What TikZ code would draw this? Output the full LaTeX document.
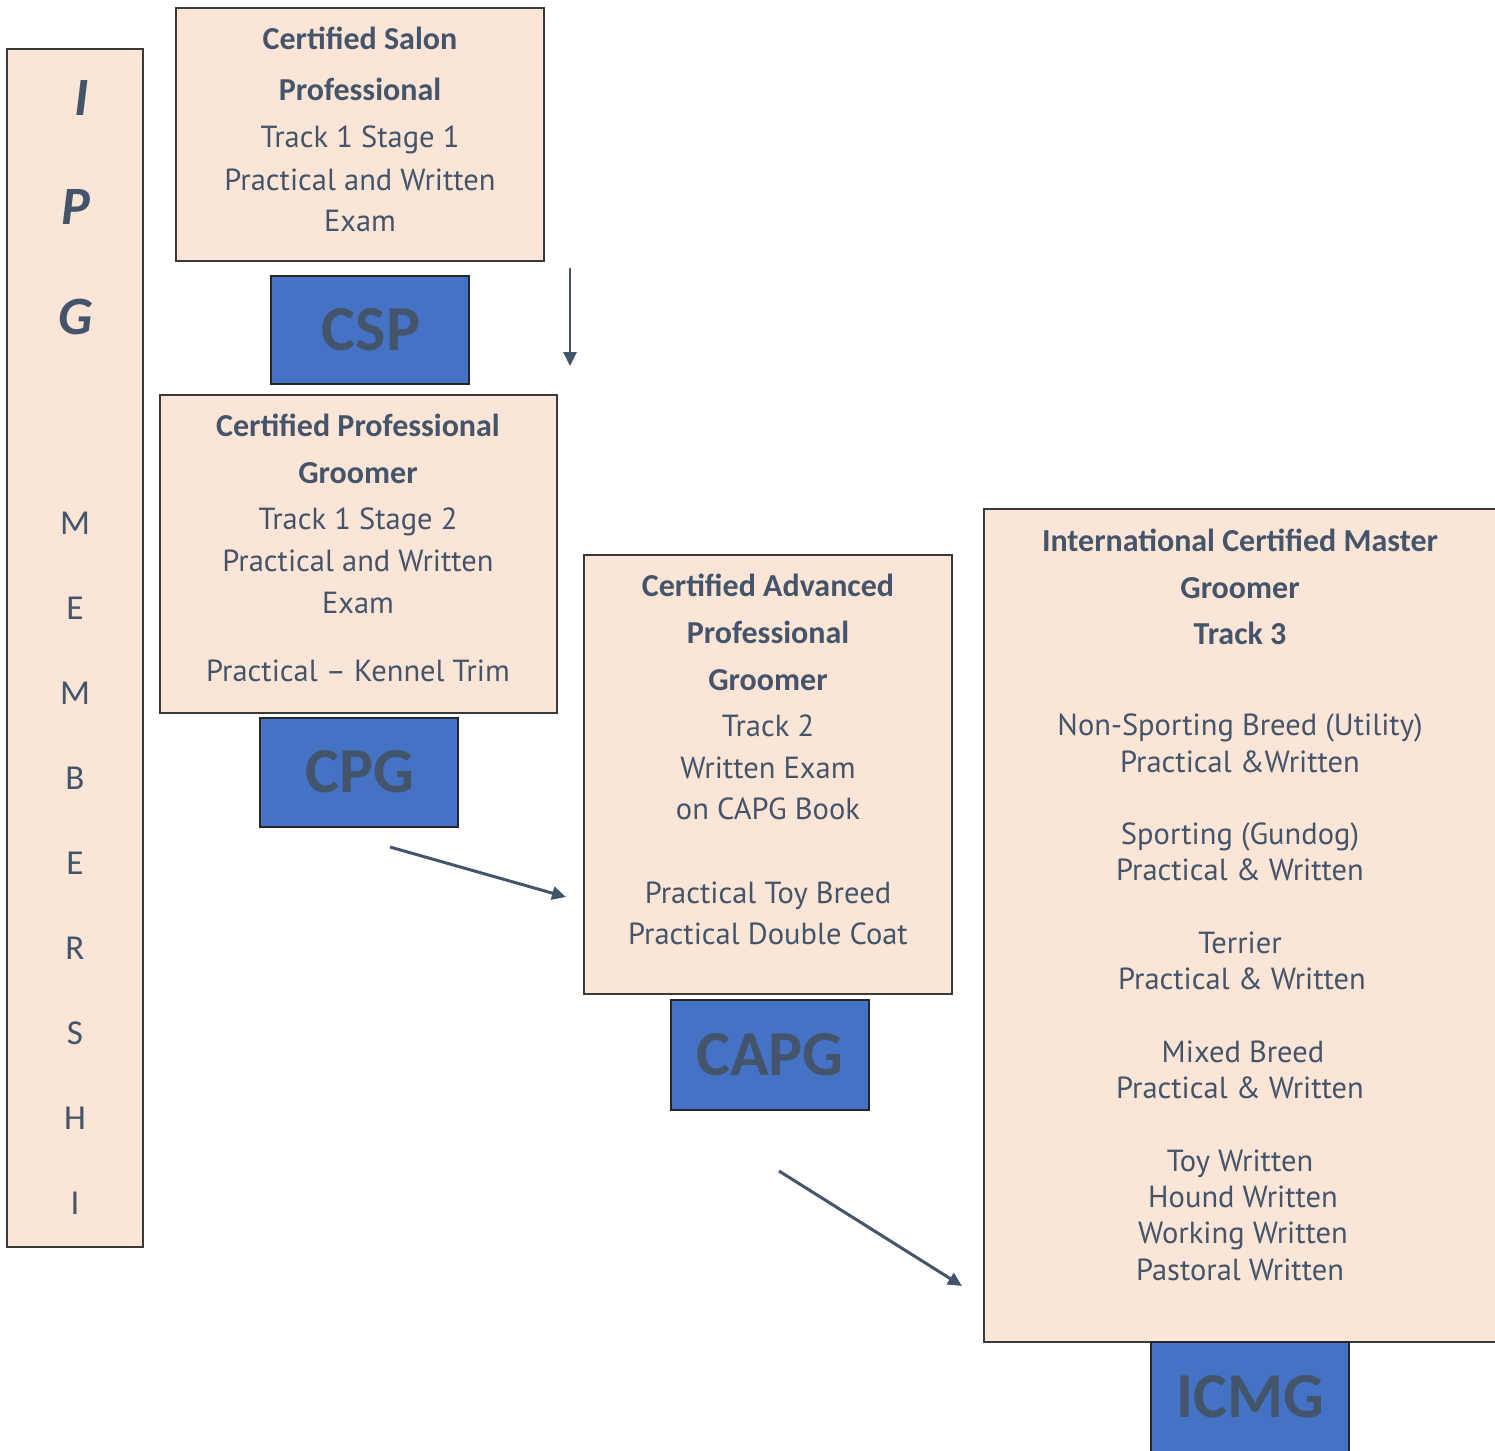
\documentclass[tikz,border=0pt]{standalone}
\usepackage{fontspec}
\setmainfont{PT Sans}
\newfontfamily\hdfont{Carlito}
\usetikzlibrary{arrows.meta}
\definecolor{peach}{HTML}{FBE5D6}
\definecolor{slate}{HTML}{44546A}
\definecolor{boxblue}{HTML}{4472C4}
\definecolor{edge}{HTML}{3A3A3A}
\tikzset{
  peachbox/.style={draw=edge, line width=1.4pt, fill=peach, inner sep=0pt, outer sep=0pt},
  bluebox/.style={draw=black!85, line width=1.4pt, fill=boxblue, inner sep=0pt, outer sep=0pt},
  bodytxt/.style={text=slate, font=\fontsize{30.5}{36}\selectfont, anchor=base, inner sep=0pt},
  headtxt/.style={text=slate, font=\hdfont\bfseries\fontsize{32}{36}\selectfont, anchor=base, inner sep=0pt},
  abbrtxt/.style={text=slate, font=\hdfont\bfseries\fontsize{64}{64}\selectfont, inner sep=0pt},
  bigletter/.style={text=slate, font=\hdfont\bfseries\itshape\fontsize{54}{54}\selectfont, inner sep=0pt},
  memletter/.style={text=slate, font=\hdfont\fontsize{35}{35}\selectfont, inner sep=0pt},
  flowarrow/.style={draw=slate, line width=3pt, -{Triangle[length=14pt,width=13pt]}},
}
\begin{document}
\begin{tikzpicture}[x=1pt,y=-1pt]
\useasboundingbox (0,0) rectangle (1495,1450);
\fill[white] (0,0) rectangle (1495,1450);
\clip (0,0) rectangle (1495,1450);

% IPG membership bar
\node[peachbox, minimum width=136pt, minimum height=1198pt] (bar) at (75,648) {};
\node[bigletter] (lI) at (82,98) {I};
\node[bigletter] (lP) at (76,207) {P};
\node[bigletter] (lG) at (76,317) {G};
\node[memletter] (m1) at (75,523) {M};
\node[memletter] (m2) at (75,608) {E};
\node[memletter] (m3) at (75,693) {M};
\node[memletter] (m4) at (75,778) {B};
\node[memletter] (m5) at (75,863) {E};
\node[memletter] (m6) at (75,948) {R};
\node[memletter] (m7) at (75,1033) {S};
\node[memletter] (m8) at (75,1118) {H};
\node[memletter] (m9) at (75,1203) {I};

% CSP
\node[peachbox, minimum width=368pt, minimum height=253pt] (csp) at (360,134.5) {};
\node[headtxt] (csp1) at (360,50) {Certified Salon};
\node[headtxt] (csp2) at (360,101) {Professional};
\node[bodytxt] (csp3) at (360,148) {Track 1 Stage 1};
\node[bodytxt] (csp4) at (360,190) {Practical and Written};
\node[bodytxt] (csp5) at (360,231) {Exam};
\node[bluebox, minimum width=198pt, minimum height=108pt] (cspb) at (370,330) {};
\node[abbrtxt] (cspl) at (371,330) {CSP};

% CPG
\node[peachbox, minimum width=397pt, minimum height=318pt] (cpg) at (358.5,554) {};
\node[headtxt] (cpg1) at (358,436) {Certified Professional};
\node[headtxt] (cpg2) at (358,483) {Groomer};
\node[bodytxt] (cpg3) at (358,529) {Track 1 Stage 2};
\node[bodytxt] (cpg4) at (358,571) {Practical and Written};
\node[bodytxt] (cpg5) at (358,613) {Exam};
\node[bodytxt] (cpg6) at (358,681) {Practical -- Kennel Trim};
\node[bluebox, minimum width=198pt, minimum height=109pt] (cpgb) at (359,772.5) {};
\node[abbrtxt] (cpgl) at (360,772) {CPG};

% CAPG
\node[peachbox, minimum width=368pt, minimum height=439pt] (capg) at (768,774.5) {};
\node[headtxt] (capg1) at (768,596) {Certified Advanced};
\node[headtxt] (capg2) at (768,643) {Professional};
\node[headtxt] (capg3) at (768,690) {Groomer};
\node[bodytxt] (capg4) at (768,736) {Track 2};
\node[bodytxt] (capg5) at (768,778) {Written Exam};
\node[bodytxt] (capg6) at (768,819) {on CAPG Book};
\node[bodytxt] (capg7) at (768,903) {Practical Toy Breed};
\node[bodytxt] (capg8) at (768,944) {Practical Double Coat};
\node[bluebox, minimum width=198pt, minimum height=110pt] (capgb) at (770,1055) {};
\node[abbrtxt] (capgl) at (770,1055) {CAPG};

% ICMG
\node[peachbox, minimum width=540pt, minimum height=833pt] (icmg) at (1254,925.5) {};
\node[headtxt] (i1) at (1240,551) {International Certified Master};
\node[headtxt] (i2) at (1240,598) {Groomer};
\node[headtxt] (i3) at (1240,644) {Track 3};
\node[bodytxt] (i4) at (1240,735) {Non-Sporting Breed (Utility)};
\node[bodytxt] (i5) at (1240,772) {Practical \&Written};
\node[bodytxt] (i6) at (1240,844) {Sporting (Gundog)};
\node[bodytxt] (i7) at (1240,880) {Practical \& Written};
\node[bodytxt] (i8) at (1240,953) {Terrier};
\node[bodytxt] (i9) at (1242,989) {Practical \& Written};
\node[bodytxt] (i10) at (1243,1062) {Mixed Breed};
\node[bodytxt] (i11) at (1240,1098) {Practical \& Written};
\node[bodytxt] (i12) at (1240,1171) {Toy Written};
\node[bodytxt] (i13) at (1243,1207) {Hound Written};
\node[bodytxt] (i14) at (1243,1243) {Working Written};
\node[bodytxt] (i15) at (1240,1280) {Pastoral Written};
\node[bluebox, minimum width=198pt, minimum height=120pt] (icmgb) at (1250,1402) {};
\node[abbrtxt] (icmgl) at (1250,1397) {ICMG};

% arrows
\coordinate (a1s) at (570,268);
\coordinate (a1e) at (570,366);
\coordinate (a2s) at (390,847);
\coordinate (a2e) at (566,897);
\coordinate (a3s) at (779,1171);
\coordinate (a3e) at (962,1286);
\draw[flowarrow, line width=2.8pt] (a1s) -- (a1e);
\draw[flowarrow] (a2s) -- (a2e);
\draw[flowarrow] (a3s) -- (a3e);
\end{tikzpicture}
\end{document}
